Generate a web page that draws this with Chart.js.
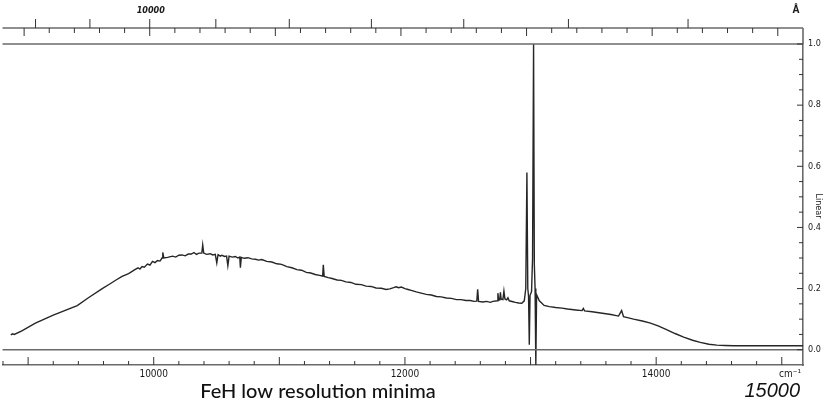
<!DOCTYPE html>
<html><head><meta charset="utf-8">
<script src="https://cdn.jsdelivr.net/npm/chart.js@4/dist/chart.umd.min.js"></script>
<style>html,body{margin:0;padding:0;background:#fff;overflow:hidden}#wrap{position:relative;width:823px;height:405px}</style>
</head><body><div id="wrap"><canvas id="c" width="823" height="405"></canvas></div>
<script>
// ---- data (wavenumber in cm-1, linear intensity) ----
const wavenumbers = [
 8862, 8875, 8890, 8950, 9058, 9200, 9391, 9480, 9590, 9650, 9700, 9748, 9800,
 9850, 9875, 9890, 9907, 9925, 9950, 9970, 9990, 10010, 10030, 10050, 10066, 10072, 10080, 10110, 10150,
 10175, 10200, 10225, 10250, 10275, 10300, 10320, 10340, 10360, 10383, 10390, 10398, 10420, 10450, 10470,
 10490, 10502, 10512, 10530, 10542, 10565, 10580, 10590, 10600, 10625, 10650, 10670, 10685, 10690, 10697,
 10720, 10750, 10780, 10810, 10835, 10860, 10900, 10940, 10980, 11018, 11060, 11100, 11140, 11177, 11215,
 11250, 11285, 11320, 11345, 11350, 11357, 11390, 11420, 11460, 11494, 11530, 11570, 11610, 11653, 11690,
 11730, 11770, 11812, 11850, 11880, 11910, 11930, 11950, 11971, 12000, 12025, 12050, 12090, 12129, 12170,
 12210, 12250, 12288, 12330, 12370, 12410, 12447, 12485, 12520, 12550, 12572, 12579, 12586, 12620, 12650,
 12680, 12700, 12735, 12740, 12746, 12755, 12760, 12766, 12780, 12788, 12796, 12810, 12820, 12830, 12860,
 12880, 12905, 12930, 12950, 12962, 12971, 12978, 12984, 12990, 12996, 13008, 13016, 13024, 13030, 13036,
 13042, 13048, 13070, 13108, 13150, 13200, 13250, 13294, 13360, 13410, 13420, 13430, 13490, 13558, 13640,
 13700, 13725, 13740, 13780, 13820, 13890, 13955, 14020, 14087, 14150, 14219, 14290, 14351, 14420, 14483,
 14550, 14616, 14800, 15000, 15169
];
const intensity = [
 0.048, 0.052, 0.050, 0.062, 0.087, 0.113, 0.144, 0.170, 0.200, 0.215, 0.228, 0.240, 0.249,
 0.262, 0.268, 0.264, 0.272, 0.270, 0.280, 0.277, 0.289, 0.285, 0.292, 0.290, 0.300, 0.318, 0.300, 0.302, 0.306,
 0.303, 0.309, 0.310, 0.307, 0.313, 0.313, 0.318, 0.312, 0.316, 0.316, 0.343, 0.316, 0.312, 0.314, 0.310,
 0.312, 0.284, 0.311, 0.306, 0.309, 0.305, 0.306, 0.275, 0.306, 0.303, 0.305, 0.300, 0.303, 0.268, 0.302,
 0.299, 0.301, 0.297, 0.296, 0.293, 0.295, 0.289, 0.287, 0.281, 0.279, 0.272, 0.268, 0.262, 0.260, 0.253,
 0.251, 0.246, 0.243, 0.241, 0.278, 0.240, 0.236, 0.233, 0.228, 0.227, 0.222, 0.220, 0.214, 0.213, 0.208,
 0.207, 0.202, 0.201, 0.197, 0.199, 0.203, 0.206, 0.203, 0.205, 0.200, 0.197, 0.194, 0.189, 0.185, 0.181,
 0.179, 0.174, 0.173, 0.169, 0.168, 0.164, 0.164, 0.161, 0.161, 0.158, 0.159, 0.198, 0.158, 0.156, 0.158,
 0.155, 0.158, 0.160, 0.185, 0.162, 0.163, 0.188, 0.165, 0.164, 0.192, 0.166, 0.163, 0.170, 0.160, 0.157,
 0.155, 0.153, 0.152, 0.160, 0.200, 0.580, 0.200, 0.175, 0.016, 0.178, 0.190, 0.300, 1.000, 0.280, 0.200,
 -0.050, 0.180, 0.160, 0.145, 0.141, 0.138, 0.136, 0.133, 0.130, 0.128, 0.135, 0.127, 0.124, 0.120, 0.115,
 0.110, 0.128, 0.108, 0.104, 0.100, 0.094, 0.087, 0.077, 0.065, 0.053, 0.041, 0.031, 0.024, 0.018, 0.015,
 0.014, 0.013, 0.013, 0.013, 0.013
];
const xTickLabels = [10000, 12000, 14000];
const yTickLabels = [0, 0.2, 0.4, 0.6, 0.8, 1.0];
const wavelengthTicks = [7000, 7500, 8000, 8500, 9000, 9500, 10000, 10500, 11000];
const wavelengthLabels = [10000];
const titleText = 'FeH low resolution minima';
const cornerText = '15000';
const xUnit = 'cm\u207B\u00B9';
const yUnit = 'Linear';
const topUnit = '\u00C5';

const ink = '#262626';
const frame = '#6a6a6a';
const smallFont = '"DejaVu Sans Condensed", "Liberation Sans Narrow", sans-serif';

const isOn = (v, step) => Math.abs(v / step - Math.round(v / step)) < 1e-6;
const stepTicks = (scale, step) => {
  const out = [];
  for (let k = Math.ceil(scale.min / step - 1e-9); k * step <= scale.max + 1e-9; k++) {
    const v = Math.round(k * step * 1000) / 1000;
    if (v >= -1e-9 || scale.axis === 'x') out.push({value: v});
  }
  scale.ticks = out;
};

const decor = {
  id: 'decor',
  afterDraw(chart) {
    const {ctx, chartArea: a, scales: {x, y}} = chart;
    const seg = (x1, y1, x2, y2) => { ctx.beginPath(); ctx.moveTo(x1, y1); ctx.lineTo(x2, y2); ctx.stroke(); };
    ctx.save();
    // horizontal frame lines at 0 and 1
    ctx.strokeStyle = frame; ctx.lineWidth = 1.6;
    seg(a.left, y.getPixelForValue(1), a.right, y.getPixelForValue(1));
    seg(a.left, y.getPixelForValue(0), a.right, y.getPixelForValue(0));
    // top wavelength axis
    const topY = a.top - 16;
    const shift = -4;
    seg(a.left, topY, a.right, topY);
    seg(a.right, topY, a.right, a.top);
    ctx.lineWidth = 1; ctx.strokeStyle = '#333';
    x.ticks.forEach(t => {
      const px = x.getPixelForValue(t.value) + shift;
      const len = isOn(t.value, 1000) ? 8 : 5;
      seg(px, topY, px, topY + len);
    });
    wavelengthTicks.forEach(l => {
      const s = 1e8 / l;
      if (s < x.min || s > x.max) return;
      const px = x.getPixelForValue(s) + shift;
      seg(px, topY - 9, px, topY);
    });
    // bottom ticks (pointing up)
    x.ticks.forEach(t => {
      const px = x.getPixelForValue(t.value);
      const len = isOn(t.value, 1000) ? 8 : 4;
      seg(px, a.bottom, px, a.bottom - len);
    });
    // right ticks (pointing in)
    y.ticks.forEach(t => {
      const py = y.getPixelForValue(t.value);
      const len = isOn(t.value, 0.2) ? 6 : 4;
      seg(a.right - len, py, a.right, py);
    });
    // texts
    ctx.fillStyle = '#1a1a1a';
    ctx.textBaseline = 'middle'; ctx.textAlign = 'center';
    ctx.font = 'italic bold 9px ' + smallFont;
    wavelengthLabels.forEach(l => {
      ctx.fillText(String(l), x.getPixelForValue(1e8 / l) + shift + 1, topY - 17);
    });
    ctx.font = 'bold 10px ' + smallFont;
    ctx.fillText(topUnit, a.right - 7, topY - 18);
    ctx.font = '10px ' + smallFont;
    ctx.fillText(xUnit, a.right - 13, a.bottom + 9);
    ctx.save();
    ctx.font = '9px ' + smallFont;
    ctx.translate(a.right + 15, y.getPixelForValue(0.47));
    ctx.rotate(Math.PI / 2);
    ctx.fillText(yUnit, 0, 0);
    ctx.restore();
    ctx.textBaseline = 'alphabetic';
    ctx.font = '500 20px Lato, "Open Sans", sans-serif';
    ctx.fillStyle = '#111';
    ctx.fillText(titleText, 318, 398);
    ctx.font = 'italic 20px "Liberation Sans", sans-serif';
    ctx.textAlign = 'right';
    ctx.fillText(cornerText, 800, 397);
    ctx.restore();
  }
};

new Chart(document.getElementById('c'), {
  type: 'line',
  data: {
    datasets: [{
      data: wavenumbers.map((w, i) => ({x: w, y: intensity[i]})),
      borderColor: ink, borderWidth: 1.4, pointRadius: 0, tension: 0, fill: false
    }]
  },
  options: {
    responsive: false, animation: false, devicePixelRatio: 1,
    layout: {padding: {top: 44, left: 0, right: 0, bottom: 0}},
    plugins: {legend: {display: false}, tooltip: {enabled: false}, title: {display: false}},
    scales: {
      x: {
        type: 'linear', position: 'bottom', min: 8796, max: 15169,
        grid: {display: false, drawTicks: false},
        border: {display: true, color: frame, width: 1.6},
        afterBuildTicks: s => stepTicks(s, 200),
        ticks: {
          autoSkip: false, maxRotation: 0, minRotation: 0, padding: 3,
          color: '#1a1a1a', font: {size: 10, family: smallFont},
          callback: v => xTickLabels.some(t => Math.abs(t - v) < 1e-6) ? String(v) : ''
        },
        afterFit: s => { s.height = 40; }
      },
      y: {
        type: 'linear', position: 'right', min: -0.05, max: 1.0,
        grid: {display: false, drawTicks: false},
        border: {display: true, color: frame, width: 1.6},
        afterBuildTicks: s => stepTicks(s, 0.05),
        ticks: {
          autoSkip: false, padding: 5,
          color: '#1a1a1a', font: {size: 9, family: smallFont},
          callback: v => yTickLabels.some(t => Math.abs(t - v) < 1e-6) ? v.toFixed(1) : ''
        },
        afterFit: s => { s.width = 20; }
      }
    }
  },
  plugins: [decor]
});
</script>
</body></html>
